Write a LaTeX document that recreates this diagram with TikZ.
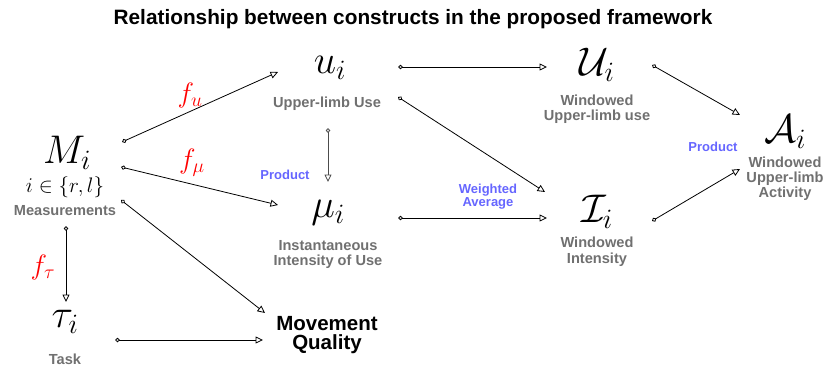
\RequirePackage{fix-cm}
\documentclass[tikz,border=0pt]{standalone}
\usepackage{fontspec}
\newfontfamily\labfont{Liberation Sans}
\usetikzlibrary{arrows.meta}
\definecolor{labgray}{RGB}{112,112,112}
\definecolor{opblue}{RGB}{102,102,255}
\begin{document}
\begin{tikzpicture}[x=1pt,y=-1pt,
  mth/.style={inner sep=0, anchor=base, font=\fontsize{40}{48}\selectfont},
  sml/.style={inner sep=0, anchor=base, font=\fontsize{21}{25}\selectfont},
  lab/.style={inner sep=0, anchor=base, text=labgray, font=\labfont\bfseries\fontsize{14.6}{15}\selectfont},
  mqlab/.style={inner sep=0, anchor=base, font=\labfont\bfseries\fontsize{20.5}{22}\selectfont},
  ttl/.style={inner sep=0, anchor=base, font=\labfont\bfseries\fontsize{20.8}{24}\selectfont},
  flab/.style={inner sep=0, text=red, font=\fontsize{28}{32}\selectfont},
  oplab/.style={inner sep=0, text=opblue, font=\labfont\bfseries\fontsize{13}{14}\selectfont},
  conn/.style={line width=0.8pt, {Diamond[open,length=5pt,width=4.5pt]}-{Triangle[open,length=7.5pt,width=7pt]}}
]
\useasboundingbox (0,0) rectangle (823,367);
\node[ttl] (title) at (413,24) {Relationship between constructs in the proposed framework};
% nodes
\node[mth] (M) at (67,163) {$M_i$};
\node[sml] (iset) at (65,192) {$i\in\{r,l\}$};
\node[lab] (meas) at (65,215) {Measurements};
\node[mth] (u) at (330,73) {$u_i$};
\node[lab] (ulab) at (327,107) {Upper-limb Use};
\node[mth] (mu) at (328,217) {$\mu_i$};
\node[lab] (mulab1) at (328,250) {Instantaneous};
\node[lab] (mulab2) at (328,265) {Intensity of Use};
\node[mth] (tau) at (65,327) {$\tau_i$};
\node[lab] (tasklab) at (65,364) {Task};
\node[mqlab] (mq1) at (327,330) {Movement};
\node[mqlab] (mq2) at (327,349) {Quality};
\node[mth] (U) at (597,75) {$\mathcal{U}_i$};
\node[lab] (Ulab1) at (597,105) {Windowed};
\node[lab] (Ulab2) at (597,120) {Upper-limb use};
\node[mth] (I) at (597,222) {$\mathcal{I}_i$};
\node[lab] (Ilab1) at (597,247) {Windowed};
\node[lab] (Ilab2) at (597,263) {Intensity};
\node[mth] (A) at (785,142) {$\mathcal{A}_i$};
\node[lab] (Alab1) at (785,167) {Windowed};
\node[lab] (Alab2) at (785,182) {Upper-limb};
\node[lab] (Alab3) at (785,197) {Activity};
% operation labels
\node[flab] (fu) at (190,95) {$f_u$};
\node[flab] (fmu) at (192,163) {$f_\mu$};
\node[flab] (ftau) at (43,267) {$f_\tau$};
\node[oplab] (prod1) at (285,175) {Product};
\node[oplab] (wavg1) at (488,190) {Weighted};
\node[oplab] (wavg2) at (488,203) {Average};
\node[oplab] (prod2) at (713,147) {Product};
% connectors
\draw[conn] ([shift={(55,-21)}]M.base) -- ([shift={(-52,-1)}]u.base);
\draw[conn] ([shift={(54,4)}]M.base) -- ([shift={(-50,-12)}]mu.base);
\draw[conn] ([shift={(54,37)}]M.base) -- ([shift={(-62,-17)}]mq1.base);
\draw[conn] ([shift={(1,11)}]meas.base) -- ([shift={(1,-25)}]tau.base);
\draw[conn] ([shift={(50,13)}]tau.base) -- ([shift={(-64,-9)}]mq2.base);
\draw[conn, draw=black!70] ([shift={(-2,55)}]u.base) -- ([shift={(0,-35)}]mu.base);
\draw[conn] ([shift={(68,-6)}]u.base) -- ([shift={(-50,-8)}]U.base);
\draw[conn] ([shift={(68,24)}]u.base) -- ([shift={(-52,-30)}]I.base);
\draw[conn] ([shift={(70,1)}]mu.base) -- ([shift={(-50,-4)}]I.base);
\draw[conn] ([shift={(55,-10)}]U.base) -- ([shift={(-45,-27)}]A.base);
\draw[conn] ([shift={(55,-1)}]I.base) -- ([shift={(-45,27)}]A.base);
\end{tikzpicture}
\end{document}
